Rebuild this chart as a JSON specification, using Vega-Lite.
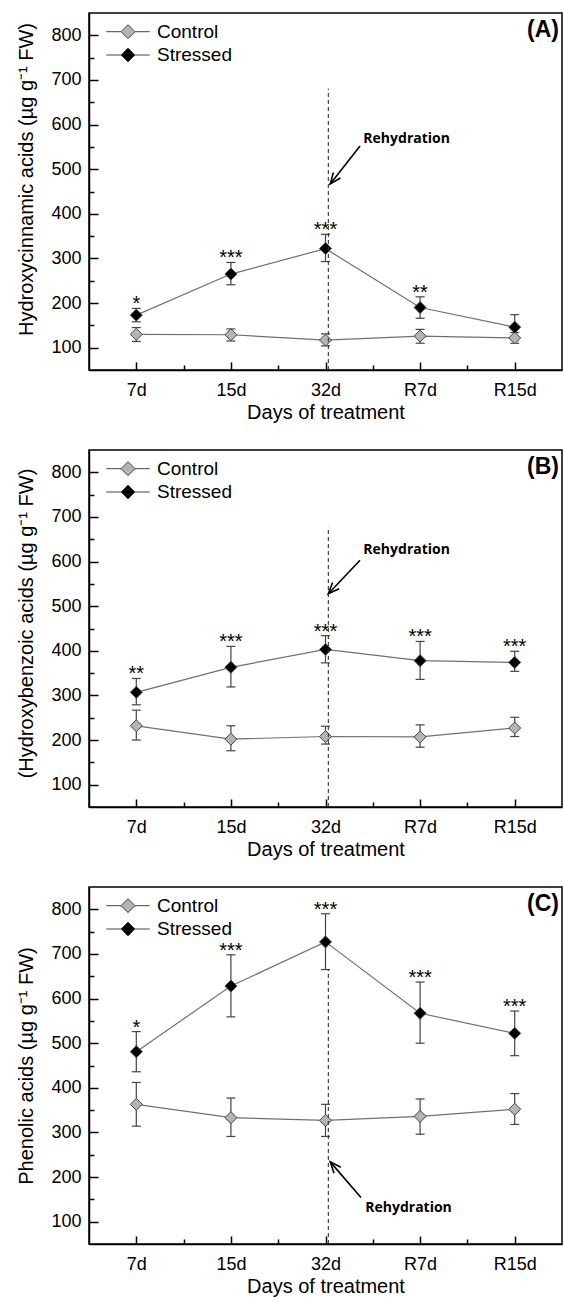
{
  "$schema": "https://vega.github.io/schema/vega-lite/v6.json",
  "padding": {"left": 16, "top": 12, "right": 0, "bottom": 0},
  "autosize": {"type": "pad"},
  "bounds": "flush",
  "spacing": 80,
  "config": {
    "font": "Liberation Sans",
    "view": {"stroke": "black", "strokeWidth": 1.5},
    "axis": {"grid": false, "domainColor": "black", "domainWidth": 1.5, "tickColor": "black", "tickWidth": 1.5, "labelColor": "black", "titleColor": "black", "labelFont": "Liberation Sans", "titleFont": "Liberation Sans", "labelFontSize": 18, "titleFontSize": 20, "titleFontWeight": "normal", "labelFlush": false, "labelOverlap": false},
    "title": {"font": "Liberation Sans", "fontSize": 23, "fontWeight": "bold", "color": "black", "anchor": "end", "frame": "group", "offset": -29, "dx": -3}
  },
  "datasets": {
    "meas": [
      {"panel": "A", "day": "7d", "t": 1, "group": "Control", "mean": 130, "lo": 114, "hi": 145, "sig": ""},
      {"panel": "A", "day": "7d", "t": 1, "group": "Stressed", "mean": 173, "lo": 158, "hi": 188, "sig": "*"},
      {"panel": "A", "day": "15d", "t": 2, "group": "Control", "mean": 129, "lo": 115, "hi": 142, "sig": ""},
      {"panel": "A", "day": "15d", "t": 2, "group": "Stressed", "mean": 265, "lo": 241, "hi": 291, "sig": "***"},
      {"panel": "A", "day": "32d", "t": 3, "group": "Control", "mean": 117, "lo": 104, "hi": 131, "sig": ""},
      {"panel": "A", "day": "32d", "t": 3, "group": "Stressed", "mean": 322, "lo": 293, "hi": 354, "sig": "***"},
      {"panel": "A", "day": "R7d", "t": 4, "group": "Control", "mean": 126, "lo": 110, "hi": 141, "sig": ""},
      {"panel": "A", "day": "R7d", "t": 4, "group": "Stressed", "mean": 190, "lo": 166, "hi": 214, "sig": "**"},
      {"panel": "A", "day": "R15d", "t": 5, "group": "Control", "mean": 122, "lo": 110, "hi": 134, "sig": ""},
      {"panel": "A", "day": "R15d", "t": 5, "group": "Stressed", "mean": 146, "lo": 118, "hi": 174, "sig": ""},
      {"panel": "B", "day": "7d", "t": 1, "group": "Control", "mean": 232, "lo": 200, "hi": 267, "sig": ""},
      {"panel": "B", "day": "7d", "t": 1, "group": "Stressed", "mean": 307, "lo": 279, "hi": 338, "sig": "**"},
      {"panel": "B", "day": "15d", "t": 2, "group": "Control", "mean": 202, "lo": 176, "hi": 232, "sig": ""},
      {"panel": "B", "day": "15d", "t": 2, "group": "Stressed", "mean": 363, "lo": 319, "hi": 410, "sig": "***"},
      {"panel": "B", "day": "32d", "t": 3, "group": "Control", "mean": 208, "lo": 191, "hi": 231, "sig": ""},
      {"panel": "B", "day": "32d", "t": 3, "group": "Stressed", "mean": 403, "lo": 373, "hi": 434, "sig": "***"},
      {"panel": "B", "day": "R7d", "t": 4, "group": "Control", "mean": 207, "lo": 184, "hi": 234, "sig": ""},
      {"panel": "B", "day": "R7d", "t": 4, "group": "Stressed", "mean": 378, "lo": 336, "hi": 421, "sig": "***"},
      {"panel": "B", "day": "R15d", "t": 5, "group": "Control", "mean": 227, "lo": 208, "hi": 251, "sig": ""},
      {"panel": "B", "day": "R15d", "t": 5, "group": "Stressed", "mean": 374, "lo": 354, "hi": 399, "sig": "***"},
      {"panel": "C", "day": "7d", "t": 1, "group": "Control", "mean": 363, "lo": 314, "hi": 412, "sig": ""},
      {"panel": "C", "day": "7d", "t": 1, "group": "Stressed", "mean": 481, "lo": 436, "hi": 526, "sig": "*"},
      {"panel": "C", "day": "15d", "t": 2, "group": "Control", "mean": 333, "lo": 291, "hi": 377, "sig": ""},
      {"panel": "C", "day": "15d", "t": 2, "group": "Stressed", "mean": 628, "lo": 559, "hi": 698, "sig": "***"},
      {"panel": "C", "day": "32d", "t": 3, "group": "Control", "mean": 327, "lo": 291, "hi": 363, "sig": ""},
      {"panel": "C", "day": "32d", "t": 3, "group": "Stressed", "mean": 727, "lo": 665, "hi": 790, "sig": "***"},
      {"panel": "C", "day": "R7d", "t": 4, "group": "Control", "mean": 336, "lo": 296, "hi": 375, "sig": ""},
      {"panel": "C", "day": "R7d", "t": 4, "group": "Stressed", "mean": 567, "lo": 500, "hi": 637, "sig": "***"},
      {"panel": "C", "day": "R15d", "t": 5, "group": "Control", "mean": 352, "lo": 318, "hi": 387, "sig": ""},
      {"panel": "C", "day": "R15d", "t": 5, "group": "Stressed", "mean": 522, "lo": 472, "hi": 572, "sig": "***"}
    ],
    "notes": [
      {"panel": "A", "vx": 3.03, "vy0": 50, "vy1": 680, "ax0": 3.365, "ay0": 552, "ax1": 3.05, "ay1": 467, "tx": 3.4, "ty": 568, "label": "Rehydration"},
      {"panel": "B", "vx": 3.03, "vy0": 50, "vy1": 678, "ax0": 3.365, "ay0": 603, "ax1": 3.03, "ay1": 528, "tx": 3.4, "ty": 625, "label": "Rehydration"},
      {"panel": "C", "vx": 3.03, "vy0": 50, "vy1": 665, "ax0": 3.375, "ay0": 154, "ax1": 3.05, "ay1": 234, "tx": 3.42, "ty": 131, "label": "Rehydration"}
    ]
  },
  "resolve": {"scale": {"fill": "independent"}, "legend": {"fill": "independent"}},
  "vconcat": [
    {
      "width": 473, "height": 357,
      "title": {"text": "(A)"},
      "resolve": {"axis": {"x": "independent", "y": "independent"}},
      "layer": [
        {"data": {"name": "meas"}, "transform": [{"filter": "datum.panel == 'A'"}],
         "mark": {"type": "rule", "color": "#444", "strokeWidth": 1.2},
         "encoding": {
           "x": {"field": "t", "type": "quantitative", "scale": {"domain": [0.5, 5.5], "nice": false, "zero": false},
                 "axis": {"orient": "bottom", "values": [1, 2, 3, 4, 5], "labelExpr": "['7d','15d','32d','R7d','R15d'][datum.value-1]", "title": "Days of treatment", "tickSize": -8, "labelPadding": 19, "titlePadding": 3}},
           "y": {"field": "lo", "type": "quantitative", "scale": {"domain": [50, 850], "nice": false, "zero": false},
                 "axis": {"orient": "left", "values": [100, 200, 300, 400, 500, 600, 700, 800], "title": "Hydroxycinnamic acids (µg g⁻¹ FW)", "titleY": 166, "tickSize": -9, "labelPadding": 17, "titlePadding": 14}},
           "y2": {"field": "hi"}
         }},
        {"data": {"name": "meas"}, "transform": [{"filter": "datum.panel == 'A'"}],
         "mark": {"type": "tick", "orient": "horizontal", "color": "#444", "size": 9, "thickness": 1.2, "opacity": 1},
         "encoding": {"x": {"field": "t", "type": "quantitative", "axis": null, "scale": {"domain": [0.5, 5.5], "nice": false, "zero": false}}, "y": {"field": "lo", "type": "quantitative", "axis": null, "scale": {"domain": [50, 850], "nice": false, "zero": false}}}},
        {"data": {"name": "meas"}, "transform": [{"filter": "datum.panel == 'A'"}],
         "mark": {"type": "tick", "orient": "horizontal", "color": "#444", "size": 9, "thickness": 1.2, "opacity": 1},
         "encoding": {"x": {"field": "t", "type": "quantitative", "axis": null, "scale": {"domain": [0.5, 5.5], "nice": false, "zero": false}}, "y": {"field": "hi", "type": "quantitative", "axis": null, "scale": {"domain": [50, 850], "nice": false, "zero": false}}}},
        {"data": {"name": "meas"}, "transform": [{"filter": "datum.panel == 'A'"}],
         "mark": {"type": "line", "color": "#707070", "strokeWidth": 1.2},
         "encoding": {"x": {"field": "t", "type": "quantitative", "axis": null, "scale": {"domain": [0.5, 5.5], "nice": false, "zero": false}}, "y": {"field": "mean", "type": "quantitative", "axis": null, "scale": {"domain": [50, 850], "nice": false, "zero": false}}, "detail": {"field": "group"}}},
        {"data": {"name": "meas"}, "transform": [{"filter": "datum.panel == 'A'"}],
         "mark": {"type": "point", "shape": "diamond", "filled": true, "size": 144, "stroke": "#444", "strokeWidth": 1, "opacity": 1},
         "encoding": {"x": {"field": "t", "type": "quantitative", "axis": null, "scale": {"domain": [0.5, 5.5], "nice": false, "zero": false}}, "y": {"field": "mean", "type": "quantitative", "axis": null, "scale": {"domain": [50, 850], "nice": false, "zero": false}},
           "fill": {"field": "group", "type": "nominal", "scale": {"domain": ["Control", "Stressed"], "range": ["#b4b4b4", "#000000"]},
             "legend": {"title": null, "orient": "none", "legendX": 29.5, "legendY": 9.2, "padding": 0, "symbolType": "M-3.1,0L-1,0M1,0L3.1,0M-1,0L0,-1L1,0L0,1Z", "symbolSize": 196, "symbolStrokeColor": "#444", "symbolStrokeWidth": 1, "labelFont": "Liberation Sans", "labelFontSize": 19, "labelColor": "black", "labelOffset": 19.5, "rowPadding": 3.3, "labelBaseline": "middle"}}}},
        {"data": {"name": "meas"}, "transform": [{"filter": "datum.panel == 'A' && datum.sig != ''"}],
         "mark": {"type": "text", "font": "Liberation Sans", "fontSize": 20, "color": "black", "baseline": "alphabetic", "dy": 2},
         "encoding": {"x": {"field": "t", "type": "quantitative", "axis": null, "scale": {"domain": [0.5, 5.5], "nice": false, "zero": false}}, "y": {"field": "hi", "type": "quantitative", "axis": null, "scale": {"domain": [50, 850], "nice": false, "zero": false}}, "text": {"field": "sig"}}},
        {"data": {"name": "notes"}, "transform": [{"filter": "datum.panel == 'A'"}],
         "mark": {"type": "rule", "color": "#333", "strokeWidth": 1.1, "strokeDash": [4, 3]},
         "encoding": {
           "x": {"field": "vx", "type": "quantitative", "scale": {"domain": [0.5, 5.5], "nice": false, "zero": false},
                 "axis": {"orient": "bottom", "values": [1.5, 2.5, 3.5, 4.5], "labels": false, "domain": false, "title": null, "tickSize": -5}},
           "y": {"field": "vy0", "type": "quantitative", "scale": {"domain": [50, 850], "nice": false, "zero": false},
                 "axis": {"orient": "left", "values": [150, 250, 350, 450, 550, 650, 750], "labels": false, "domain": false, "title": null, "tickSize": -5}},
           "y2": {"field": "vy1"}
         }},
        {"data": {"name": "notes"}, "transform": [{"filter": "datum.panel == 'A'"}],
         "mark": {"type": "rule", "color": "black", "strokeWidth": 1.6},
         "encoding": {"x": {"field": "ax0", "type": "quantitative", "axis": null, "scale": {"domain": [0.5, 5.5], "nice": false, "zero": false}}, "y": {"field": "ay0", "type": "quantitative", "axis": null, "scale": {"domain": [50, 850], "nice": false, "zero": false}}, "x2": {"field": "ax1"}, "y2": {"field": "ay1"}}},
        {"data": {"name": "notes"}, "transform": [{"filter": "datum.panel == 'A'"}],
         "mark": {"type": "point", "shape": "M-0.45,1.1L0,0L0.45,1.1", "filled": false, "size": 400, "stroke": "black", "strokeWidth": 1.6, "angle": 217.6, "opacity": 1},
         "encoding": {"x": {"field": "ax1", "type": "quantitative", "axis": null, "scale": {"domain": [0.5, 5.5], "nice": false, "zero": false}}, "y": {"field": "ay1", "type": "quantitative", "axis": null, "scale": {"domain": [50, 850], "nice": false, "zero": false}}}},
        {"data": {"name": "notes"}, "transform": [{"filter": "datum.panel == 'A'"}],
         "mark": {"type": "text", "font": "Open Sans", "fontWeight": "bold", "fontSize": 14, "color": "black", "align": "left", "baseline": "middle"},
         "encoding": {"x": {"field": "tx", "type": "quantitative", "axis": null, "scale": {"domain": [0.5, 5.5], "nice": false, "zero": false}}, "y": {"field": "ty", "type": "quantitative", "axis": null, "scale": {"domain": [50, 850], "nice": false, "zero": false}}, "text": {"field": "label"}}}
      ]
    },
    {
      "width": 473, "height": 357,
      "title": {"text": "(B)"},
      "resolve": {"axis": {"x": "independent", "y": "independent"}},
      "layer": [
        {"data": {"name": "meas"}, "transform": [{"filter": "datum.panel == 'B'"}],
         "mark": {"type": "rule", "color": "#444", "strokeWidth": 1.2},
         "encoding": {
           "x": {"field": "t", "type": "quantitative", "scale": {"domain": [0.5, 5.5], "nice": false, "zero": false},
                 "axis": {"orient": "bottom", "values": [1, 2, 3, 4, 5], "labelExpr": "['7d','15d','32d','R7d','R15d'][datum.value-1]", "title": "Days of treatment", "tickSize": -8, "labelPadding": 19, "titlePadding": 3}},
           "y": {"field": "lo", "type": "quantitative", "scale": {"domain": [50, 850], "nice": false, "zero": false},
                 "axis": {"orient": "left", "values": [100, 200, 300, 400, 500, 600, 700, 800], "title": "(Hydroxybenzoic acids (µg g⁻¹ FW)", "titleY": 173, "tickSize": -9, "labelPadding": 17, "titlePadding": 14}},
           "y2": {"field": "hi"}
         }},
        {"data": {"name": "meas"}, "transform": [{"filter": "datum.panel == 'B'"}],
         "mark": {"type": "tick", "orient": "horizontal", "color": "#444", "size": 9, "thickness": 1.2, "opacity": 1},
         "encoding": {"x": {"field": "t", "type": "quantitative", "axis": null, "scale": {"domain": [0.5, 5.5], "nice": false, "zero": false}}, "y": {"field": "lo", "type": "quantitative", "axis": null, "scale": {"domain": [50, 850], "nice": false, "zero": false}}}},
        {"data": {"name": "meas"}, "transform": [{"filter": "datum.panel == 'B'"}],
         "mark": {"type": "tick", "orient": "horizontal", "color": "#444", "size": 9, "thickness": 1.2, "opacity": 1},
         "encoding": {"x": {"field": "t", "type": "quantitative", "axis": null, "scale": {"domain": [0.5, 5.5], "nice": false, "zero": false}}, "y": {"field": "hi", "type": "quantitative", "axis": null, "scale": {"domain": [50, 850], "nice": false, "zero": false}}}},
        {"data": {"name": "meas"}, "transform": [{"filter": "datum.panel == 'B'"}],
         "mark": {"type": "line", "color": "#707070", "strokeWidth": 1.2},
         "encoding": {"x": {"field": "t", "type": "quantitative", "axis": null, "scale": {"domain": [0.5, 5.5], "nice": false, "zero": false}}, "y": {"field": "mean", "type": "quantitative", "axis": null, "scale": {"domain": [50, 850], "nice": false, "zero": false}}, "detail": {"field": "group"}}},
        {"data": {"name": "meas"}, "transform": [{"filter": "datum.panel == 'B'"}],
         "mark": {"type": "point", "shape": "diamond", "filled": true, "size": 144, "stroke": "#444", "strokeWidth": 1, "opacity": 1},
         "encoding": {"x": {"field": "t", "type": "quantitative", "axis": null, "scale": {"domain": [0.5, 5.5], "nice": false, "zero": false}}, "y": {"field": "mean", "type": "quantitative", "axis": null, "scale": {"domain": [50, 850], "nice": false, "zero": false}},
           "fill": {"field": "group", "type": "nominal", "scale": {"domain": ["Control", "Stressed"], "range": ["#b4b4b4", "#000000"]},
             "legend": {"title": null, "orient": "none", "legendX": 29.5, "legendY": 9.2, "padding": 0, "symbolType": "M-3.1,0L-1,0M1,0L3.1,0M-1,0L0,-1L1,0L0,1Z", "symbolSize": 196, "symbolStrokeColor": "#444", "symbolStrokeWidth": 1, "labelFont": "Liberation Sans", "labelFontSize": 19, "labelColor": "black", "labelOffset": 19.5, "rowPadding": 3.3, "labelBaseline": "middle"}}}},
        {"data": {"name": "meas"}, "transform": [{"filter": "datum.panel == 'B' && datum.sig != ''"}],
         "mark": {"type": "text", "font": "Liberation Sans", "fontSize": 20, "color": "black", "baseline": "alphabetic", "dy": 2},
         "encoding": {"x": {"field": "t", "type": "quantitative", "axis": null, "scale": {"domain": [0.5, 5.5], "nice": false, "zero": false}}, "y": {"field": "hi", "type": "quantitative", "axis": null, "scale": {"domain": [50, 850], "nice": false, "zero": false}}, "text": {"field": "sig"}}},
        {"data": {"name": "notes"}, "transform": [{"filter": "datum.panel == 'B'"}],
         "mark": {"type": "rule", "color": "#333", "strokeWidth": 1.1, "strokeDash": [4, 3]},
         "encoding": {
           "x": {"field": "vx", "type": "quantitative", "scale": {"domain": [0.5, 5.5], "nice": false, "zero": false},
                 "axis": {"orient": "bottom", "values": [1.5, 2.5, 3.5, 4.5], "labels": false, "domain": false, "title": null, "tickSize": -5}},
           "y": {"field": "vy0", "type": "quantitative", "scale": {"domain": [50, 850], "nice": false, "zero": false},
                 "axis": {"orient": "left", "values": [150, 250, 350, 450, 550, 650, 750], "labels": false, "domain": false, "title": null, "tickSize": -5}},
           "y2": {"field": "vy1"}
         }},
        {"data": {"name": "notes"}, "transform": [{"filter": "datum.panel == 'B'"}],
         "mark": {"type": "rule", "color": "black", "strokeWidth": 1.6},
         "encoding": {"x": {"field": "ax0", "type": "quantitative", "axis": null, "scale": {"domain": [0.5, 5.5], "nice": false, "zero": false}}, "y": {"field": "ay0", "type": "quantitative", "axis": null, "scale": {"domain": [50, 850], "nice": false, "zero": false}}, "x2": {"field": "ax1"}, "y2": {"field": "ay1"}}},
        {"data": {"name": "notes"}, "transform": [{"filter": "datum.panel == 'B'"}],
         "mark": {"type": "point", "shape": "M-0.45,1.1L0,0L0.45,1.1", "filled": false, "size": 400, "stroke": "black", "strokeWidth": 1.6, "angle": 223, "opacity": 1},
         "encoding": {"x": {"field": "ax1", "type": "quantitative", "axis": null, "scale": {"domain": [0.5, 5.5], "nice": false, "zero": false}}, "y": {"field": "ay1", "type": "quantitative", "axis": null, "scale": {"domain": [50, 850], "nice": false, "zero": false}}}},
        {"data": {"name": "notes"}, "transform": [{"filter": "datum.panel == 'B'"}],
         "mark": {"type": "text", "font": "Open Sans", "fontWeight": "bold", "fontSize": 14, "color": "black", "align": "left", "baseline": "middle"},
         "encoding": {"x": {"field": "tx", "type": "quantitative", "axis": null, "scale": {"domain": [0.5, 5.5], "nice": false, "zero": false}}, "y": {"field": "ty", "type": "quantitative", "axis": null, "scale": {"domain": [50, 850], "nice": false, "zero": false}}, "text": {"field": "label"}}}
      ]
    },
    {
      "width": 473, "height": 357,
      "title": {"text": "(C)"},
      "resolve": {"axis": {"x": "independent", "y": "independent"}},
      "layer": [
        {"data": {"name": "meas"}, "transform": [{"filter": "datum.panel == 'C'"}],
         "mark": {"type": "rule", "color": "#444", "strokeWidth": 1.2},
         "encoding": {
           "x": {"field": "t", "type": "quantitative", "scale": {"domain": [0.5, 5.5], "nice": false, "zero": false},
                 "axis": {"orient": "bottom", "values": [1, 2, 3, 4, 5], "labelExpr": "['7d','15d','32d','R7d','R15d'][datum.value-1]", "title": "Days of treatment", "tickSize": -8, "labelPadding": 19, "titlePadding": 3}},
           "y": {"field": "lo", "type": "quantitative", "scale": {"domain": [50, 850], "nice": false, "zero": false},
                 "axis": {"orient": "left", "values": [100, 200, 300, 400, 500, 600, 700, 800], "title": "Phenolic acids (µg g⁻¹ FW)", "tickSize": -9, "labelPadding": 17, "titlePadding": 14}},
           "y2": {"field": "hi"}
         }},
        {"data": {"name": "meas"}, "transform": [{"filter": "datum.panel == 'C'"}],
         "mark": {"type": "tick", "orient": "horizontal", "color": "#444", "size": 9, "thickness": 1.2, "opacity": 1},
         "encoding": {"x": {"field": "t", "type": "quantitative", "axis": null, "scale": {"domain": [0.5, 5.5], "nice": false, "zero": false}}, "y": {"field": "lo", "type": "quantitative", "axis": null, "scale": {"domain": [50, 850], "nice": false, "zero": false}}}},
        {"data": {"name": "meas"}, "transform": [{"filter": "datum.panel == 'C'"}],
         "mark": {"type": "tick", "orient": "horizontal", "color": "#444", "size": 9, "thickness": 1.2, "opacity": 1},
         "encoding": {"x": {"field": "t", "type": "quantitative", "axis": null, "scale": {"domain": [0.5, 5.5], "nice": false, "zero": false}}, "y": {"field": "hi", "type": "quantitative", "axis": null, "scale": {"domain": [50, 850], "nice": false, "zero": false}}}},
        {"data": {"name": "meas"}, "transform": [{"filter": "datum.panel == 'C'"}],
         "mark": {"type": "line", "color": "#707070", "strokeWidth": 1.2},
         "encoding": {"x": {"field": "t", "type": "quantitative", "axis": null, "scale": {"domain": [0.5, 5.5], "nice": false, "zero": false}}, "y": {"field": "mean", "type": "quantitative", "axis": null, "scale": {"domain": [50, 850], "nice": false, "zero": false}}, "detail": {"field": "group"}}},
        {"data": {"name": "meas"}, "transform": [{"filter": "datum.panel == 'C'"}],
         "mark": {"type": "point", "shape": "diamond", "filled": true, "size": 144, "stroke": "#444", "strokeWidth": 1, "opacity": 1},
         "encoding": {"x": {"field": "t", "type": "quantitative", "axis": null, "scale": {"domain": [0.5, 5.5], "nice": false, "zero": false}}, "y": {"field": "mean", "type": "quantitative", "axis": null, "scale": {"domain": [50, 850], "nice": false, "zero": false}},
           "fill": {"field": "group", "type": "nominal", "scale": {"domain": ["Control", "Stressed"], "range": ["#b4b4b4", "#000000"]},
             "legend": {"title": null, "orient": "none", "legendX": 29.5, "legendY": 9.2, "padding": 0, "symbolType": "M-3.1,0L-1,0M1,0L3.1,0M-1,0L0,-1L1,0L0,1Z", "symbolSize": 196, "symbolStrokeColor": "#444", "symbolStrokeWidth": 1, "labelFont": "Liberation Sans", "labelFontSize": 19, "labelColor": "black", "labelOffset": 19.5, "rowPadding": 3.3, "labelBaseline": "middle"}}}},
        {"data": {"name": "meas"}, "transform": [{"filter": "datum.panel == 'C' && datum.sig != ''"}],
         "mark": {"type": "text", "font": "Liberation Sans", "fontSize": 20, "color": "black", "baseline": "alphabetic", "dy": 2},
         "encoding": {"x": {"field": "t", "type": "quantitative", "axis": null, "scale": {"domain": [0.5, 5.5], "nice": false, "zero": false}}, "y": {"field": "hi", "type": "quantitative", "axis": null, "scale": {"domain": [50, 850], "nice": false, "zero": false}}, "text": {"field": "sig"}}},
        {"data": {"name": "notes"}, "transform": [{"filter": "datum.panel == 'C'"}],
         "mark": {"type": "rule", "color": "#333", "strokeWidth": 1.1, "strokeDash": [4, 3]},
         "encoding": {
           "x": {"field": "vx", "type": "quantitative", "scale": {"domain": [0.5, 5.5], "nice": false, "zero": false},
                 "axis": {"orient": "bottom", "values": [1.5, 2.5, 3.5, 4.5], "labels": false, "domain": false, "title": null, "tickSize": -5}},
           "y": {"field": "vy0", "type": "quantitative", "scale": {"domain": [50, 850], "nice": false, "zero": false},
                 "axis": {"orient": "left", "values": [150, 250, 350, 450, 550, 650, 750], "labels": false, "domain": false, "title": null, "tickSize": -5}},
           "y2": {"field": "vy1"}
         }},
        {"data": {"name": "notes"}, "transform": [{"filter": "datum.panel == 'C'"}],
         "mark": {"type": "rule", "color": "black", "strokeWidth": 1.6},
         "encoding": {"x": {"field": "ax0", "type": "quantitative", "axis": null, "scale": {"domain": [0.5, 5.5], "nice": false, "zero": false}}, "y": {"field": "ay0", "type": "quantitative", "axis": null, "scale": {"domain": [50, 850], "nice": false, "zero": false}}, "x2": {"field": "ax1"}, "y2": {"field": "ay1"}}},
        {"data": {"name": "notes"}, "transform": [{"filter": "datum.panel == 'C'"}],
         "mark": {"type": "point", "shape": "M-0.45,1.1L0,0L0.45,1.1", "filled": false, "size": 400, "stroke": "black", "strokeWidth": 1.6, "angle": 319, "opacity": 1},
         "encoding": {"x": {"field": "ax1", "type": "quantitative", "axis": null, "scale": {"domain": [0.5, 5.5], "nice": false, "zero": false}}, "y": {"field": "ay1", "type": "quantitative", "axis": null, "scale": {"domain": [50, 850], "nice": false, "zero": false}}}},
        {"data": {"name": "notes"}, "transform": [{"filter": "datum.panel == 'C'"}],
         "mark": {"type": "text", "font": "Open Sans", "fontWeight": "bold", "fontSize": 14, "color": "black", "align": "left", "baseline": "middle"},
         "encoding": {"x": {"field": "tx", "type": "quantitative", "axis": null, "scale": {"domain": [0.5, 5.5], "nice": false, "zero": false}}, "y": {"field": "ty", "type": "quantitative", "axis": null, "scale": {"domain": [50, 850], "nice": false, "zero": false}}, "text": {"field": "label"}}}
      ]
    }
  ]
}
